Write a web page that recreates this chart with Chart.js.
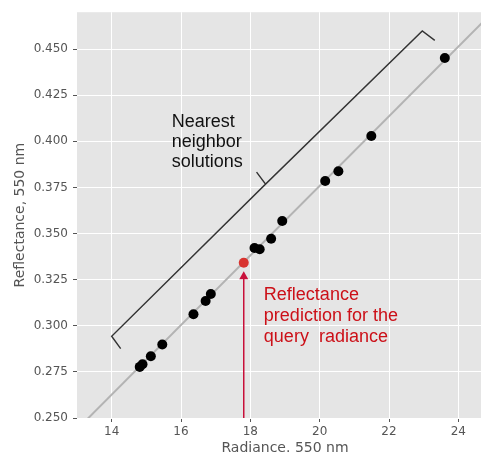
<!DOCTYPE html>
<html>
<head>
<meta charset="utf-8">
<script src="https://cdn.jsdelivr.net/npm/chart.js@4"></script>
<style>
  html, body { margin: 0; padding: 0; background: #fff; overflow: hidden; }
  #wrap { width: 498px; height: 457px; }
</style>
</head>
<body>
<div id="wrap"><canvas id="chart" width="498" height="457"></canvas></div>
<script>
// nearest neighbour solutions (radiance vs reflectance, 550 nm)
const radiance = [14.81, 14.89, 15.13, 15.46, 16.36, 16.71, 16.86, 18.12, 18.27, 18.60, 18.92, 20.16, 20.54, 21.49, 23.61];
const reflectance = [0.2777, 0.2791, 0.2835, 0.2898, 0.3062, 0.3134, 0.3172, 0.3422, 0.3415, 0.3472, 0.3568, 0.3785, 0.3838, 0.4029, 0.4452];

// query prediction
const queryRadiance = [17.81];
const queryReflectance = [0.3342];

// fitted line
const fitRadiance = [13, 25];
const fitReflectance = [0.2438, 0.4702];

// bracket around the neighbours
const bracketRadiance = [14.26, 14.0, 18.44, 18.18, 18.44, 22.96, 23.32];
const bracketReflectance = [0.2876, 0.2943, 0.3768, 0.3833, 0.3768, 0.4598, 0.4547];

// arrow from the axis up to the prediction
const arrowRadiance = 17.81;
const arrowReflectance = [0.25, 0.3296];

// ticks
const xTickValues = [14, 16, 18, 20, 22, 24];
const yTickValues = [0.250, 0.275, 0.300, 0.325, 0.350, 0.375, 0.400, 0.425, 0.450];

// annotation texts
const neighborLabel = ['Nearest', 'neighbor', 'solutions'];
const neighborAt = [15.73, 0.4077];
const predictionLabel = ['Reflectance', 'prediction for the', 'query  radiance'];
const predictionAt = [18.39, 0.3138];

const toXY = (xs, ys) => xs.map((v, i) => ({ x: v, y: ys[i] }));

Chart.defaults.font.family = '"DejaVu Sans", sans-serif';
Chart.defaults.color = '#555';

const decorations = {
  id: 'decorations',
  beforeDraw(chart) {
    const { ctx, chartArea: a } = chart;
    ctx.save();
    ctx.fillStyle = '#e5e5e5';
    ctx.fillRect(a.left, a.top, a.right - a.left, a.bottom - a.top);
    ctx.restore();
  },
  afterDatasetsDraw(chart) {
    const { ctx, scales: { x, y } } = chart;
    ctx.save();

    // arrow
    const ax = x.getPixelForValue(arrowRadiance);
    const y0 = y.getPixelForValue(arrowReflectance[0]);
    const y1 = y.getPixelForValue(arrowReflectance[1]);
    ctx.strokeStyle = '#c8103a';
    ctx.fillStyle = '#c8103a';
    ctx.lineWidth = 1.5;
    ctx.beginPath();
    ctx.moveTo(ax, y0);
    ctx.lineTo(ax, y1 + 6);
    ctx.stroke();
    ctx.beginPath();
    ctx.moveTo(ax, y1);
    ctx.lineTo(ax - 4.5, y1 + 8);
    ctx.lineTo(ax + 4.5, y1 + 8);
    ctx.closePath();
    ctx.fill();

    // labels
    ctx.font = '18px "Liberation Sans", Arial, sans-serif';
    ctx.textAlign = 'left';
    ctx.textBaseline = 'alphabetic';
    ctx.fillStyle = '#111';
    let tx = x.getPixelForValue(neighborAt[0]);
    let ty = y.getPixelForValue(neighborAt[1]);
    neighborLabel.forEach((s, i) => ctx.fillText(s, tx, ty + i * 20));

    ctx.fillStyle = '#cc1018';
    tx = x.getPixelForValue(predictionAt[0]);
    ty = y.getPixelForValue(predictionAt[1]);
    predictionLabel.forEach((s, i) => ctx.fillText(s, tx, ty + i * 21));

    ctx.restore();
  }
};

new Chart(document.getElementById('chart'), {
  type: 'scatter',
  data: {
    datasets: [
      {
        data: toXY(queryRadiance, queryReflectance),
        backgroundColor: '#d8332f',
        pointRadius: 5,
        pointBorderWidth: 0,
        order: 0,
      },
      {
        data: toXY(radiance, reflectance),
        backgroundColor: '#000',
        pointRadius: 5,
        pointBorderWidth: 0,
        order: 1,
      },
      {
        data: toXY(bracketRadiance, bracketReflectance),
        showLine: true,
        borderColor: '#333',
        borderWidth: 1.4,
        pointRadius: 0,
        order: 2,
      },
      {
        data: toXY(fitRadiance, fitReflectance),
        showLine: true,
        borderColor: '#b3b3b3',
        borderWidth: 2,
        pointRadius: 0,
        order: 3,
      },
    ],
  },
  options: {
    responsive: false,
    animation: false,
    events: [],
    layout: { padding: { top: 10.5, left: 0, right: 0, bottom: 0 } },
    plugins: {
      legend: { display: false },
      tooltip: { enabled: false },
    },
    scales: {
      x: {
        type: 'linear',
        min: 13,
        max: 25,
        afterBuildTicks: (s) => { s.ticks = xTickValues.map((v) => ({ value: v })); },
        afterFit: (s) => { s.height = 39; },
        border: { display: false },
        grid: { color: '#fff', lineWidth: 1, tickColor: '#555', tickLength: 4 },
        ticks: { font: { size: 12 }, color: '#555', padding: 3, callback: (v) => String(v) },
        title: { display: true, text: 'Radiance. 550 nm', font: { size: 14 }, color: '#555', padding: { top: 0, bottom: 0 } },
      },
      y: {
        type: 'linear',
        min: 0.25,
        max: 0.47,
        afterBuildTicks: (s) => { s.ticks = yTickValues.map((v) => ({ value: v })); },
        afterFit: (s) => { s.width = 77; },
        border: { display: false },
        grid: { color: '#fff', lineWidth: 1, tickColor: '#555', tickLength: 4 },
        ticks: { font: { size: 12 }, color: '#555', padding: 5, callback: (v) => Number(v).toFixed(3) },
        title: { display: true, text: 'Reflectance, 550 nm', font: { size: 14 }, color: '#555', padding: { top: 12, bottom: 0 } },
      },
    },
  },
  plugins: [decorations],
});
</script>
</body>
</html>
